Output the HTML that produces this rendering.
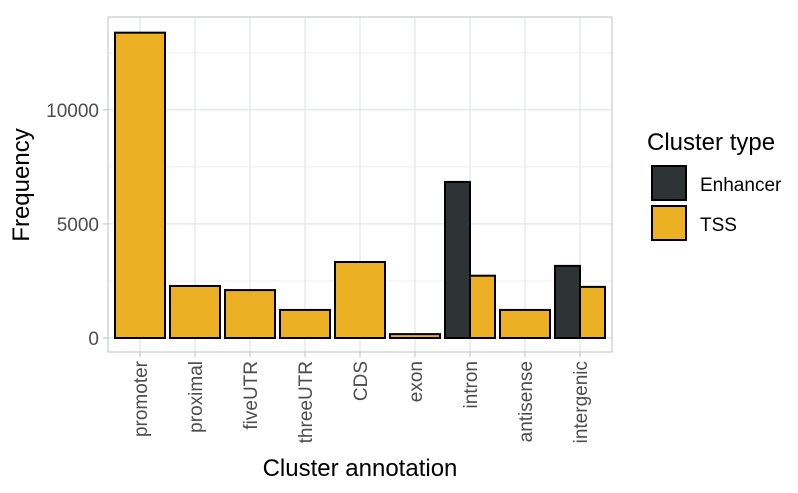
<!DOCTYPE html>
<html><head><meta charset="utf-8"><style>
body{margin:0;background:#fff;font-family:"Liberation Sans",sans-serif}
</style></head><body>
<svg id="chart" width="798" height="488" xmlns="http://www.w3.org/2000/svg">
<g id="grid"></g><g id="bars"></g><g id="axes"></g>
<text x="360" y="476" font-size="24" text-anchor="middle" fill="#000">Cluster annotation</text>
<text transform="translate(29,185) rotate(-90)" font-size="24" text-anchor="middle" fill="#000">Frequency</text>
<g>
<text x="647" y="150" font-size="24" fill="#000">Cluster type</text>
<g>
<rect x="652" y="166" width="34" height="34" fill="#2e3436" stroke="#000" stroke-width="2"/>
<text x="700" y="191" font-size="19" fill="#000">Enhancer</text></g>
<g>
<rect x="652" y="206" width="34" height="34" fill="#ebb024" stroke="#000" stroke-width="2"/>
<text x="700" y="231" font-size="19" fill="#000">TSS</text></g>
</g>
</svg>
<script>
const categories=["promoter","proximal","fiveUTR","threeUTR","CDS","exon","intron","antisense","intergenic"];
const enhancerValues=[null,null,null,null,null,null,6840,null,3160];
const tssValues=[13380,2280,2100,1230,3330,170,2730,1230,2240];
const yTicks=[0,5000,10000];
const yMinor=[2500,7500,12500];
const NS="http://www.w3.org/2000/svg";
const L=108,R=612,T=17,B=352;
const y=v=>338-v*0.02282;
const x=i=>140+i*55;
const BW=50;
function mk(tag,attrs,parent){const e=document.createElementNS(NS,tag);for(const k in attrs)e.setAttribute(k,attrs[k]);document.getElementById(parent).appendChild(e);return e;}
yMinor.forEach(v=>{const l=mk('line',{x1:L,x2:R,y1:y(v),y2:y(v),stroke:'#edf0f0','stroke-width':1},'grid');

});
yTicks.forEach(v=>{const l=mk('line',{x1:L,x2:R,y1:y(v),y2:y(v),stroke:'#e1e5e6','stroke-width':1.2},'grid');


const tk=mk('line',{x1:L-5,x2:L,y1:y(v),y2:y(v),stroke:'#c4cccd','stroke-width':1.2},'axes');


const t=mk('text',{x:L-9,y:y(v)+7,'font-size':19,'text-anchor':'end',fill:'#4d4d4d'},'axes');t.textContent=v;

});
categories.forEach((c,i)=>{const l=mk('line',{x1:x(i),x2:x(i),y1:T,y2:B,stroke:'#e1e5e6','stroke-width':1.2},'grid');


const tk=mk('line',{x1:x(i),x2:x(i),y1:B,y2:B+5,stroke:'#c4cccd','stroke-width':1.2},'axes');


const t=mk('text',{transform:`translate(${x(i)+7},${B+9}) rotate(-90)`,'font-size':19,'text-anchor':'end',fill:'#4d4d4d'},'axes');t.textContent=c;


const e=enhancerValues[i],s=tssValues[i];
const dodge=e!=null;
if(dodge){const r=mk('rect',{x:x(i)-BW/2,y:y(e),width:BW/2,height:y(0)-y(e),fill:'#2e3436',stroke:'#000','stroke-width':2},'bars');

}
if(s!=null){const bx=dodge?x(i):x(i)-BW/2,bw=dodge?BW/2:BW;
const r=mk('rect',{x:bx,y:y(s),width:bw,height:y(0)-y(s),fill:'#ebb024',stroke:'#000','stroke-width':2},'bars');

}});
const f=mk('rect',{x:L,y:T,width:R-L,height:B-T,fill:'none',stroke:'#c4cccd','stroke-width':1.2},'axes');


</script>
</body></html>
